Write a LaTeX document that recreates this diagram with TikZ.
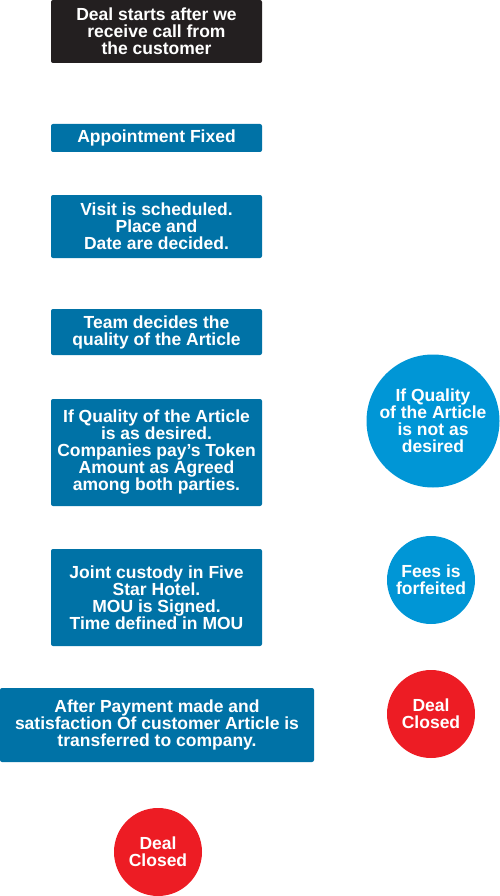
\documentclass[tikz,border=0pt]{standalone}
\usepackage{fontspec}
\setmainfont{Liberation Sans}
\definecolor{stepblue}{RGB}{0,114,166}
\definecolor{roundblue}{RGB}{0,150,214}
\definecolor{dealred}{RGB}{237,28,36}
\definecolor{startblack}{RGB}{35,31,32}
\tikzset{ b/.style = { rectangle % step box
        , rounded corners = 2pt
        , fill = stepblue
        , text = white
        , align = center
        , inner sep = 0pt
        , font = \bfseries\fontsize{17.5}{17}\selectfont
        }
        , c/.style = { circle % side circle
        , fill = roundblue
        , text = white
        , align = center
        , inner sep = 0pt
        , font = \bfseries\fontsize{17.5}{17}\selectfont
        }
        , r/.style = { c % closing circle
        , fill = dealred
        , minimum size = 88pt
        }
        }

\begin{document}
\begin{tikzpicture}[x=1pt, y=-1pt]
        \useasboundingbox (0,0) rectangle (500,896);

        \node [b,fill=startblack,minimum width=211pt,minimum height=63pt](start) at (156.5,31.5) {Deal starts after we\\receive call from\\the customer};
        \node [b,minimum width=211pt,minimum height=28pt](appt) at (156.5,138) {Appointment Fixed};
        \node [b,minimum width=211pt,minimum height=63pt](visit) at (156.5,226.5) {Visit is scheduled.\\Place and\\Date are decided.};
        \node [b,minimum width=211pt,minimum height=46pt](team) at (156.5,332) {Team decides the\\quality of the Article};
        \node [b,minimum width=211pt,minimum height=107pt](quality) at (156.5,452.5) {If Quality of the Article\\is as desired.\\Companies pay’s Token\\Amount as Agreed\\among both parties.};
        \node [b,minimum width=211pt,minimum height=97pt](custody) at (156.5,597.5) {Joint custody in Five\\Star Hotel.\\MOU is Signed.\\Time defined in MOU};
        \node [b,minimum width=314pt,minimum height=74pt](payment) at (157,725) {After Payment made and\\satisfaction Of customer Article is\\transferred to company.};

        \node [c,minimum size=133pt](notq) at (433,421) {If Quality\\of the Article\\is not as\\desired};
        \node [c,minimum size=88pt](fees) at (431,580) {Fees is\\forfeited};
        \node [r](closedr) at (431,714) {Deal\\Closed};
        \node [r](closedb) at (158,852) {Deal\\Closed};

\end{tikzpicture}
\end{document}
